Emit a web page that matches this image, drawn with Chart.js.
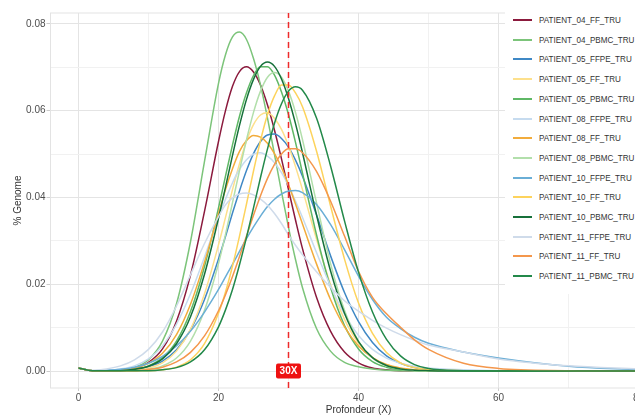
<!DOCTYPE html>
<html><head><meta charset="utf-8">
<script src="https://cdn.jsdelivr.net/npm/chart.js@4.4.1/dist/chart.umd.min.js"></script>
<style>
html,body{margin:0;padding:0;background:#fff;overflow:hidden;width:635px;height:416px;}
#wrap{position:absolute;left:0;top:0;width:672px;height:416px;}
#legend{position:absolute;left:505px;top:4px;width:180px;height:290px;background:#fff;font-family:"Liberation Sans",Arial,sans-serif;color:#333;}
.item{position:absolute;left:0;height:16px;width:180px;}
.sw{position:absolute;left:8px;top:7px;width:19px;height:2px;}
.tx{position:absolute;left:34px;top:0;font-size:9.3px;line-height:16px;white-space:nowrap;transform:scaleX(0.87);transform-origin:0 50%;}
</style></head>
<body>
<div id="wrap"><canvas id="c" width="672" height="416"></canvas></div>
<div id="legend"></div>
<script>
// ---- data ----
const depth = [0,2,4,6,8,10,12,14,16,18,20,21,22,23,24,25,26,27,28,29,30,31,32,34,36,38,40,42,44,46,48,50,55,60,70,80];
const seriesNames = ["PATIENT_04_FF_TRU","PATIENT_04_PBMC_TRU","PATIENT_05_FFPE_TRU","PATIENT_05_FF_TRU","PATIENT_05_PBMC_TRU","PATIENT_08_FFPE_TRU","PATIENT_08_FF_TRU","PATIENT_08_PBMC_TRU","PATIENT_10_FFPE_TRU","PATIENT_10_FF_TRU","PATIENT_10_PBMC_TRU","PATIENT_11_FFPE_TRU","PATIENT_11_FF_TRU","PATIENT_11_PBMC_TRU"];
const p04_ff   = [0.0007,0.0001,0.0001,0.0002,0.0007,0.0020,0.0051,0.0115,0.0221,0.0368,0.0529,0.0600,0.0656,0.0690,0.0701,0.0689,0.0659,0.0613,0.0555,0.0489,0.0418,0.0348,0.0282,0.0170,0.0092,0.0044,0.0019,0.0007,0.0003,0.0001,0.0001,0.0001,0,0,0,0];
const p04_pbmc = [0.0007,0.0001,0.0001,0.0002,0.0008,0.0026,0.0069,0.0155,0.0298,0.0483,0.0663,0.0729,0.0770,0.0781,0.0764,0.0720,0.0659,0.0583,0.0499,0.0413,0.0331,0.0257,0.0192,0.0098,0.0046,0.0020,0.0010,0.0005,0.0002,0.0001,0.0001,0,0,0,0,0];
const p05_ffpe = [0.0007,0.0001,0.0001,0.0001,0.0004,0.0010,0.0023,0.0049,0.0095,0.0165,0.0258,0.0310,0.0364,0.0415,0.0462,0.0501,0.0529,0.0544,0.0546,0.0536,0.0516,0.0486,0.0449,0.0360,0.0266,0.0181,0.0114,0.0066,0.0035,0.0018,0.0008,0.0004,0.0001,0,0,0];
const p05_ff   = [0.0007,0.0001,0.0001,0.0001,0.0002,0.0007,0.0019,0.0046,0.0096,0.0178,0.0291,0.0354,0.0418,0.0478,0.0530,0.0568,0.0590,0.0595,0.0582,0.0557,0.0519,0.0471,0.0418,0.0304,0.0200,0.0119,0.0064,0.0031,0.0014,0.0006,0.0002,0.0001,0,0,0,0];
const p05_pbmc = [0.0007,0.0001,0.0001,0.0001,0.0004,0.0012,0.0031,0.0069,0.0137,0.0241,0.0376,0.0449,0.0521,0.0587,0.0641,0.0681,0.0701,0.0701,0.0682,0.0643,0.0591,0.0527,0.0456,0.0314,0.0193,0.0105,0.0051,0.0022,0.0009,0.0003,0.0001,0,0,0,0,0];
const p08_ffpe = [0.0007,0.0001,0.0002,0.0005,0.0012,0.0028,0.0058,0.0108,0.0178,0.0263,0.0354,0.0396,0.0434,0.0465,0.0487,0.0500,0.0503,0.0495,0.0480,0.0457,0.0427,0.0392,0.0354,0.0273,0.0196,0.0131,0.0082,0.0050,0.0030,0.0018,0.0011,0.0007,0.0003,0.0001,0,0];
const p08_ff   = [0.0007,0.0001,0.0001,0.0002,0.0007,0.0018,0.0041,0.0084,0.0154,0.0251,0.0363,0.0418,0.0466,0.0506,0.0531,0.0543,0.0539,0.0525,0.0501,0.0469,0.0429,0.0385,0.0339,0.0247,0.0165,0.0102,0.0058,0.0031,0.0015,0.0007,0.0003,0.0001,0,0,0,0];
const p08_pbmc = [0.0007,0.0001,0.0001,0.0001,0.0001,0.0004,0.0012,0.0030,0.0069,0.0140,0.0248,0.0315,0.0388,0.0462,0.0533,0.0596,0.0645,0.0677,0.0688,0.0677,0.0645,0.0596,0.0533,0.0388,0.0248,0.0140,0.0069,0.0030,0.0012,0.0004,0.0001,0,0,0,0,0];
const p10_ffpe = [0.0007,0.0001,0.0002,0.0004,0.0009,0.0018,0.0034,0.0058,0.0092,0.0136,0.0188,0.0217,0.0246,0.0276,0.0305,0.0332,0.0357,0.0379,0.0396,0.0408,0.0415,0.0416,0.0411,0.0384,0.0338,0.0280,0.0219,0.0165,0.0124,0.0098,0.0078,0.0064,0.0044,0.0030,0.0011,0.0003];
const p10_ff   = [0.0007,0.0001,0.0001,0.0001,0.0001,0.0001,0.0003,0.0009,0.0026,0.0063,0.0133,0.0182,0.0242,0.0311,0.0385,0.0461,0.0531,0.0591,0.0634,0.0659,0.0659,0.0641,0.0609,0.0507,0.0381,0.0258,0.0157,0.0087,0.0043,0.0019,0.0008,0.0003,0.0001,0,0,0];
const p10_pbmc = [0.0007,0.0001,0.0001,0.0001,0.0004,0.0011,0.0028,0.0063,0.0125,0.0223,0.0352,0.0424,0.0497,0.0566,0.0626,0.0672,0.0702,0.0712,0.0702,0.0673,0.0628,0.0570,0.0503,0.0360,0.0231,0.0133,0.0068,0.0031,0.0013,0.0005,0.0002,0.0001,0,0,0,0];
const p11_ffpe = [0.0007,0.0002,0.0005,0.0012,0.0026,0.0050,0.0090,0.0150,0.0222,0.0294,0.0356,0.0383,0.0399,0.0408,0.0410,0.0406,0.0396,0.0382,0.0363,0.0340,0.0314,0.0290,0.0268,0.0229,0.0193,0.0162,0.0138,0.0117,0.0099,0.0084,0.0071,0.0060,0.0044,0.0028,0.0012,0.0005];
const p11_ff   = [0.0007,0.0001,0.0001,0.0001,0.0001,0.0004,0.0009,0.0021,0.0043,0.0081,0.0139,0.0176,0.0218,0.0264,0.0311,0.0359,0.0404,0.0444,0.0476,0.0500,0.0512,0.0512,0.0503,0.0460,0.0392,0.0311,0.0230,0.0170,0.0132,0.0101,0.0072,0.0050,0.0018,0.0006,0.0001,0];
const p11_pbmc = [0.0007,0.0001,0.0001,0.0001,0.0001,0.0001,0.0003,0.0008,0.0021,0.0049,0.0102,0.0141,0.0188,0.0245,0.0308,0.0376,0.0446,0.0512,0.0571,0.0616,0.0645,0.0655,0.0647,0.0583,0.0473,0.0346,0.0228,0.0136,0.0073,0.0035,0.0015,0.0006,0.0001,0,0,0];
const seriesValues = [p04_ff,p04_pbmc,p05_ffpe,p05_ff,p05_pbmc,p08_ffpe,p08_ff,p08_pbmc,p10_ffpe,p10_ff,p10_pbmc,p11_ffpe,p11_ff,p11_pbmc];
const xTickValues = [0,10,20,30,40,50,60,70,80];
const yTickValues = [0,0.01,0.02,0.03,0.04,0.05,0.06,0.07,0.08];
const thresholdX = 30;
const thresholdLabel = "30X";

// ---- style ----
const seriesColors = ["#8b1a3d","#7cc47a","#3f88c5","#fde08c","#5fb866","#c6dbef","#f2ac3c","#b2dfab","#6aaed6","#fdd35c","#16703a","#cfdbea","#f4974c","#23894a"];
const xMin = -4, xMax = 84, yMin = -0.0039, yMax = 0.0825;
const FONT = "'Liberation Sans', Arial, sans-serif";

const datasets = seriesValues.map((vals, i) => ({
  label: seriesNames[i],
  data: depth.map((d, k) => ({x: d, y: vals[k]})),
  borderColor: seriesColors[i],
  borderWidth: 1.5,
  pointRadius: 0,
  fill: false,
  cubicInterpolationMode: 'monotone',
  order: -i
}));
datasets.push({
  label: 'threshold',
  data: [{x: thresholdX, y: yMin}, {x: thresholdX, y: yMax}],
  borderColor: '#ee2a2a', borderWidth: 1.5, borderDash: [6, 4],
  pointRadius: 0, fill: false, order: -100
});

const frameAndLabel = {
  id: 'frameAndLabel',
  beforeDatasetsDraw(chart) {
    const {ctx, chartArea: a} = chart;
    ctx.save();
    ctx.strokeStyle = '#e3e3e3'; ctx.lineWidth = 1;
    ctx.strokeRect(a.left, a.top, a.right - a.left, a.bottom - a.top);
    ctx.restore();
  },
  afterDatasetsDraw(chart) {
    const {ctx} = chart;
    const px = chart.scales.x.getPixelForValue(thresholdX);
    const py = chart.scales.y.getPixelForValue(0);
    const w = 25, h = 15;
    ctx.save();
    ctx.fillStyle = '#ee1111';
    ctx.beginPath();
    ctx.roundRect(px - w / 2, py - h / 2, w, h, 2);
    ctx.fill();
    ctx.fillStyle = '#ffffff';
    ctx.font = "bold 10px " + FONT;
    ctx.textAlign = 'center'; ctx.textBaseline = 'middle';
    ctx.fillText(thresholdLabel, px, py + 0.5);
    ctx.restore();
  }
};

new Chart(document.getElementById('c'), {
  type: 'line',
  data: {datasets},
  plugins: [frameAndLabel],
  options: {
    responsive: false, animation: false, devicePixelRatio: 1,
    layout: {padding: {left: 0, right: 5.5, top: 13, bottom: 0}},
    plugins: {legend: {display: false}, tooltip: {enabled: false}},
    scales: {
      x: {
        type: 'linear', min: xMin, max: xMax,
        afterBuildTicks: a => { a.ticks = xTickValues.map(v => ({value: v})); },
        afterFit: s => { s.height = 28; },
        border: {display: false},
        grid: {
          color: c => (c.tick && c.tick.value % 20 === 0) ? '#e4e4e4' : '#f1f1f1',
          tickColor: c => (c.tick && c.tick.value % 20 === 0) ? '#cccccc' : 'rgba(0,0,0,0)',
          drawTicks: true, tickLength: 3
        },
        ticks: {callback: v => (v % 20 === 0 ? String(v) : ''), color: '#4d4d4d', font: {family: FONT, size: 10}, padding: 1, maxRotation: 0, autoSkip: false},
        title: {display: true, text: 'Profondeur (X)', color: '#333', font: {family: FONT, size: 10}, padding: {top: 0, bottom: 0}}
      },
      y: {
        type: 'linear', min: yMin, max: yMax,
        afterBuildTicks: a => { a.ticks = yTickValues.map(v => ({value: v})); },
        afterFit: s => { s.width = 50.5; },
        border: {display: false},
        grid: {
          color: c => (c.tick && Math.round(c.tick.value * 100) % 2 === 0) ? '#e4e4e4' : '#f1f1f1',
          tickColor: c => (c.tick && Math.round(c.tick.value * 100) % 2 === 0) ? '#cccccc' : 'rgba(0,0,0,0)',
          drawTicks: true, tickLength: 4
        },
        ticks: {callback: v => (Math.round(v * 100) % 2 === 0 ? v.toFixed(2) : ''), color: '#4d4d4d', font: {family: FONT, size: 10}, padding: 1, autoSkip: false},
        title: {display: true, text: '% Genome', color: '#333', font: {family: FONT, size: 10}, padding: {top: 12, bottom: 0}}
      }
    }
  }
});

// HTML legend built from the same arrays
const leg = document.getElementById('legend');
seriesNames.forEach((n, i) => {
  const it = document.createElement('div');
  it.className = 'item';
  it.style.top = (8 + i * 19.7) + 'px';
  const sw = document.createElement('div');
  sw.className = 'sw'; sw.style.background = seriesColors[i];
  const tx = document.createElement('span');
  tx.className = 'tx'; tx.textContent = n;
  it.appendChild(sw); it.appendChild(tx);
  leg.appendChild(it);
});
</script>
</body></html>
